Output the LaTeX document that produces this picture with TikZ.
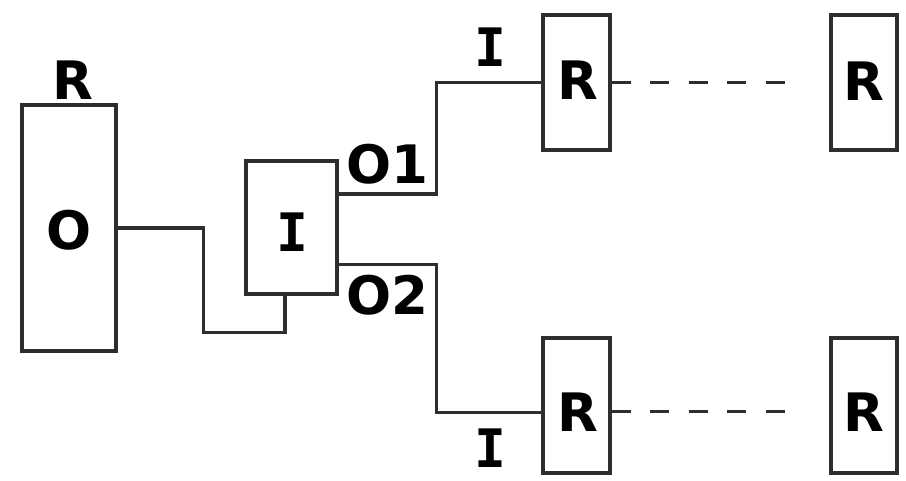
\documentclass[tikz,border=0pt]{standalone}
\usepackage{fontspec}
\setmainfont{DejaVu Sans}
\newfontfamily\monobold{DejaVu Sans Mono}[BoldFont=* Bold]
\begin{document}
\begin{tikzpicture}[x=1pt,y=1pt,
  boxst/.style={draw=linec,line width=3.8pt,rectangle,inner sep=0pt,minimum width=#1},
  lbl/.style={inner sep=0pt,font=\fontsize{53}{60}\selectfont\bfseries,text=black},
  lbli/.style={inner sep=0pt,font=\fontsize{53}{60}\selectfont\monobold\bfseries,text=black},
  wire/.style={draw=linec,line width=3.4pt},
  dwire/.style={draw=linec,line width=3.6pt,dash pattern=on 19pt off 19.5pt}]
\definecolor{linec}{HTML}{2E2E2E}
\useasboundingbox (0,0) rectangle (906,481);
% boxes
\node[boxst=94pt,minimum height=245.7pt] (o) at (68.7,253.15) {};
\node[boxst=91pt,minimum height=133pt] (i) at (291.2,253.5) {};
\node[boxst=66.7pt,minimum height=135pt] (r1) at (576.7,398.5) {};
\node[boxst=66pt,minimum height=135pt] (r3) at (863.7,398.5) {};
\node[boxst=66.7pt,minimum height=134.4pt] (r2) at (576.7,75.5) {};
\node[boxst=66pt,minimum height=134.4pt] (r4) at (863.7,75.5) {};
% labels
\node[lbl] (tR) at (72.7,401) {R};
\node[lbl] (tO) at (69,251) {O};
\node[lbli] (tI) at (292.7,249.3) {I};
\node[lbl] (tO1) at (387,317) {O1};
\node[lbl] (tO2) at (387.5,186) {O2};
\node[lbli] (tI1) at (490.7,434.3) {I};
\node[lbli] (tI2) at (490.7,33) {I};
\node[lbl] (tR1) at (577.7,401) {R};
\node[lbl] (tR3) at (864.3,400) {R};
\node[lbl] (tR2) at (577.7,69.3) {R};
\node[lbl] (tR4) at (864.3,69) {R};
% connectors
\draw[wire] (o.east) -- (203.3,253.15) |- (285,148.7) -- ([xshift=-6.2pt]i.south);
\draw[wire] ([yshift=33.5pt]i.east) -- (436.5,287) |- (r1.west);
\draw[wire] ([yshift=-36.8pt]i.east) -- (436.5,216.7) |- ([yshift=-7pt]r2.west);
\draw[dwire] (r1.east) -- ([xshift=-41.7pt]r3.west);
\draw[dwire] ([yshift=-6pt]r2.east) -- ([xshift=-41.7pt,yshift=-6pt]r4.west);
\end{tikzpicture}
\end{document}
